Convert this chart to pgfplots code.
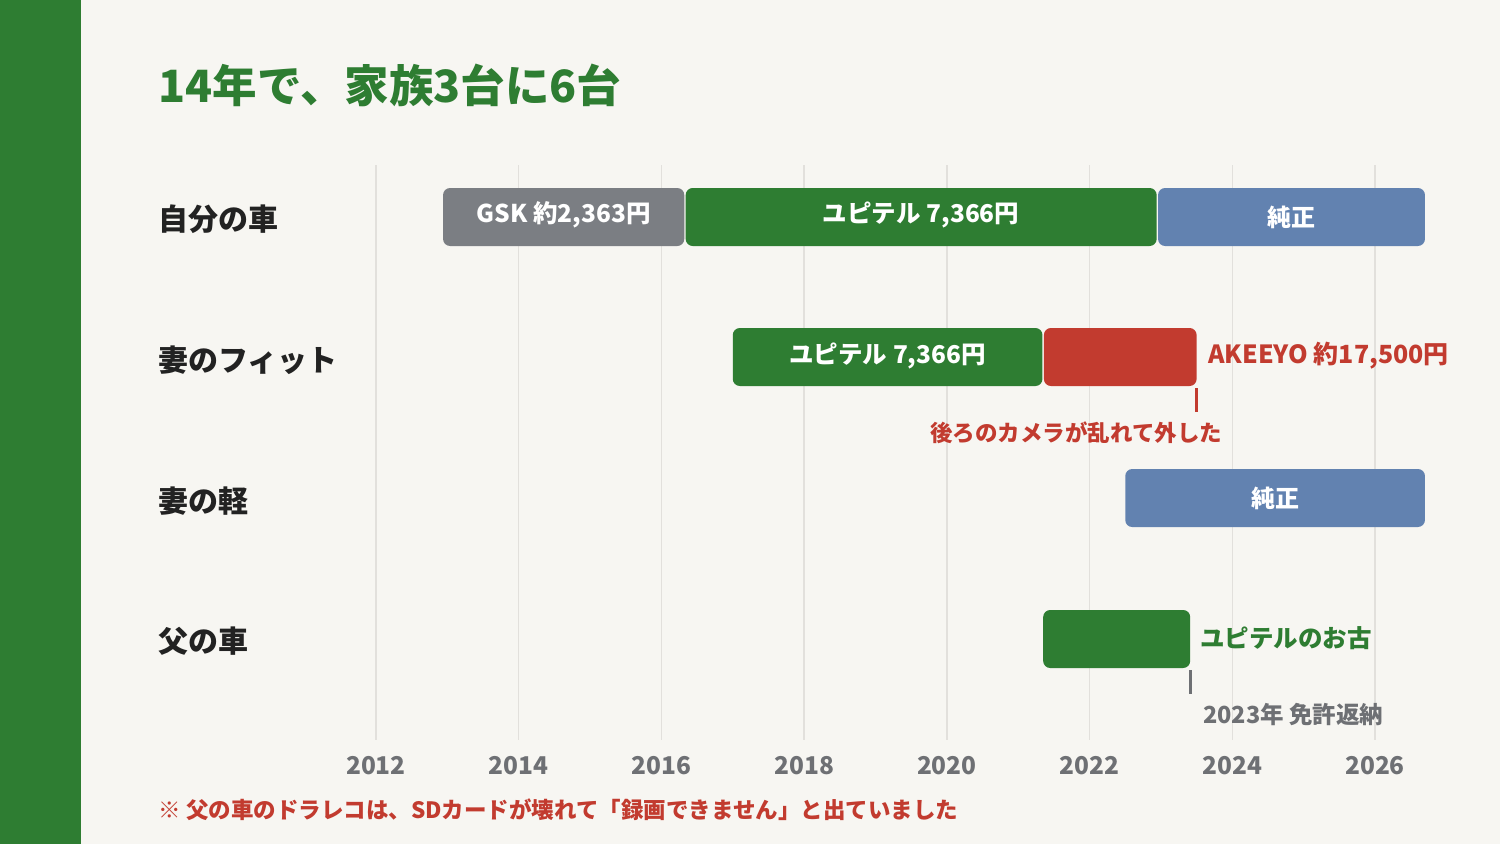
\documentclass[border=0pt]{standalone}
\usepackage{pgfplots}
\pgfplotsset{compat=1.18}
\usepackage{fontspec}
\setmainfont{Noto Sans CJK JP}

\definecolor{bg}{HTML}{F7F6F2}
\definecolor{dgreen}{HTML}{2E7D32}
\definecolor{bargray}{HTML}{7B7E83}
\definecolor{barblue}{HTML}{6282B0}
\definecolor{barred}{HTML}{C23B2F}
\definecolor{gridc}{HTML}{E2E0DC}
\definecolor{tickc}{HTML}{6E7074}
\definecolor{labc}{HTML}{222222}

\newcommand\fs[1]{\fontsize{#1}{#1}\selectfont\bfseries}

\pgfplotsset{
  bar/.style={draw=none, fill=#1, rounded corners=7pt, mark=none},
  marker/.style={draw=#1, line width=3pt, mark=none},
}

\begin{document}
\begin{tikzpicture}
% page background and green side band
\fill[bg] (0,0) rectangle (1500pt,844pt);
\fill[dgreen] (0,0) rectangle (81pt,844pt);
\begin{axis}[
    at={(0,0)}, anchor=south west,
    scale only axis,
    width=1500pt, height=844pt,
    xmin=2006.731, xmax=2027.752,
    ymin=0, ymax=844, y dir=reverse,
    axis lines=none, xtick=\empty, ytick=\empty,
    clip=false,
  ]
  % grid and year labels
  \pgfplotsinvokeforeach{2012,2014,...,2026}{
    \draw[gridc, line width=1.5pt] (axis cs:#1,165) -- (axis cs:#1,740);
    \node[text=tickc, font=\fs{24.5}] at (axis cs:#1,766) {#1};
  }

  % title and row names
  \node[anchor=west, inner sep=0pt, text=dgreen, font=\fs{44.5}] at (axis cs:2008.95,85) {14年で、家族3台に6台};
  \node[anchor=west, inner sep=0pt, text=labc, font=\fs{30}] at (axis cs:2008.95,219) {自分の車};
  \node[anchor=west, inner sep=0pt, text=labc, font=\fs{30}] at (axis cs:2008.95,360) {妻のフィット};
  \node[anchor=west, inner sep=0pt, text=labc, font=\fs{30}] at (axis cs:2008.95,501) {妻の軽};
  \node[anchor=west, inner sep=0pt, text=labc, font=\fs{30}] at (axis cs:2008.95,641) {父の車};

  % row 1: own car
  \addplot[bar=bargray] coordinates {(2012.94,188) (2016.32,188) (2016.32,246) (2012.94,246)} --cycle;
  \addplot[bar=dgreen] coordinates {(2016.34,188) (2022.94,188) (2022.94,246) (2016.34,246)} --cycle;
  \addplot[bar=barblue] coordinates {(2022.96,188) (2026.70,188) (2026.70,246) (2022.96,246)} --cycle;
  \node[text=white, font=\fs{24.5}] at (axis cs:2014.63,215) {GSK 約2,363円};
  \node[text=white, font=\fs{24.5}] at (axis cs:2019.64,215) {ユピテル 7,366円};
  \node[text=white, font=\fs{24}] at (axis cs:2024.83,217) {純正};

  % row 2: wife's Fit
  \addplot[bar=dgreen] coordinates {(2017.00,328) (2021.34,328) (2021.34,386) (2017.00,386)} --cycle;
  \addplot[bar=barred] coordinates {(2021.36,328) (2023.50,328) (2023.50,386) (2021.36,386)} --cycle;
  \addplot[marker=barred] coordinates {(2023.50,388) (2023.50,412)};
  \node[text=white, font=\fs{24.5}] at (axis cs:2019.17,356) {ユピテル 7,366円};
  \node[anchor=west, inner sep=0pt, text=barred, font=\fs{25}] at (axis cs:2023.66,356) {AKEEYO 約17,500円};
  \node[anchor=east, inner sep=0pt, text=barred, font=\fs{22.5}] at (axis cs:2023.86,433) {後ろのカメラが乱れて外した};

  % row 3: wife's kei car
  \addplot[bar=barblue] coordinates {(2022.50,469) (2026.70,469) (2026.70,527) (2022.50,527)} --cycle;
  \node[text=white, font=\fs{24}] at (axis cs:2024.60,498) {純正};

  % row 4: father's car
  \addplot[bar=dgreen] coordinates {(2021.35,610) (2023.41,610) (2023.41,668) (2021.35,668)} --cycle;
  \addplot[marker=tickc] coordinates {(2023.41,670) (2023.41,694)};
  \node[anchor=west, inner sep=0pt, text=dgreen, font=\fs{24.5}] at (axis cs:2023.55,638) {ユピテルのお古};
  \node[anchor=west, inner sep=0pt, text=tickc, font=\fs{23.5}] at (axis cs:2023.59,715) {2023年 免許返納};

  % footnote
  \node[anchor=west, inner sep=0pt, text=barred, font=\fs{22.5}] at (axis cs:2008.95,810) {※ 父の車のドラレコは、SDカードが壊れて「録画できません」と出ていました};
\end{axis}
\end{tikzpicture}
\end{document}
